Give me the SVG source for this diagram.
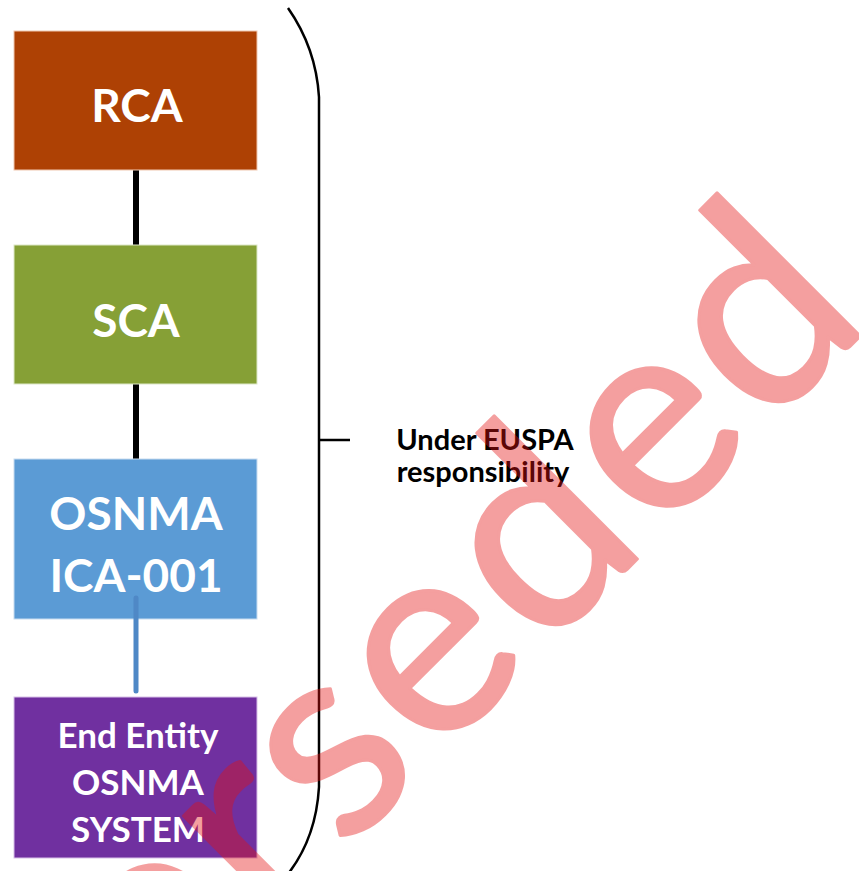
<svg xmlns="http://www.w3.org/2000/svg" width="859" height="871" viewBox="0 0 859 871">
<style>
.box{stroke-width:1}
.lbl{font-family:Lato,"Liberation Sans",sans-serif;font-weight:bold;fill:#fff;text-anchor:middle}
.note{font-family:Lato,"Liberation Sans",sans-serif;font-weight:bold;fill:#000;text-anchor:middle;font-size:29px}
.conn{stroke-linecap:round;fill:none}
</style>
<rect width="859" height="871" fill="#fff"/>
<g id="connectors">
<line class="conn" x1="136" y1="170" x2="136" y2="245" stroke="#000" stroke-width="6"/>
<line class="conn" x1="136" y1="384" x2="136" y2="459" stroke="#000" stroke-width="6"/>
</g>
<g id="rca">
<rect class="box" x="14" y="31" width="243" height="139" fill="#AE4104" stroke="#F0C8B0"/>
<text class="lbl" x="137" y="122" font-size="46">RCA</text>
</g>
<g id="sca">
<rect class="box" x="14" y="245" width="243" height="139" fill="#86A036" stroke="#DDE8C8"/>
<text class="lbl" x="136" y="337" font-size="46">SCA</text>
</g>
<g id="ica">
<rect class="box" x="14" y="459" width="243" height="160" fill="#5B9BD5" stroke="#C8DCF0"/>
<text class="lbl" x="136" y="530" font-size="46">OSNMA</text>
<text class="lbl" x="136" y="592" font-size="46">ICA-001</text>
</g>
<g id="connector-blue">
<line class="conn" x1="136" y1="598" x2="136" y2="691" stroke="#4F88C6" stroke-width="5"/>
</g>
<g id="endentity">
<rect class="box" x="14" y="697" width="243" height="161" fill="#7030A0" stroke="#D8C0E8"/>
<text class="lbl" x="138" y="748" font-size="35">End Entity</text>
<text class="lbl" x="138" y="795" font-size="35">OSNMA</text>
<text class="lbl" x="138" y="842" font-size="35">SYSTEM</text>
</g>
<g id="brace">
<path d="M288,8 Q316,48 319,97 L319,787 Q316,838 288,874" fill="none" stroke="#000" stroke-width="2.5"/>
<line x1="319" y1="440" x2="350" y2="440" stroke="#000" stroke-width="2.5"/>
<text class="note" x="485" y="450">Under EUSPA</text>
<text class="note" x="483" y="482">responsibility</text>
</g>
<g id="watermark" opacity="0.4">
<text transform="rotate(-45)" x="398" y="846" text-anchor="end" letter-spacing="8" font-family="Lato,'Liberation Sans',sans-serif" font-size="275" fill="#E41111" stroke="#E41111" stroke-width="3" stroke-linejoin="round">Superseded</text>
</g>
</svg>
